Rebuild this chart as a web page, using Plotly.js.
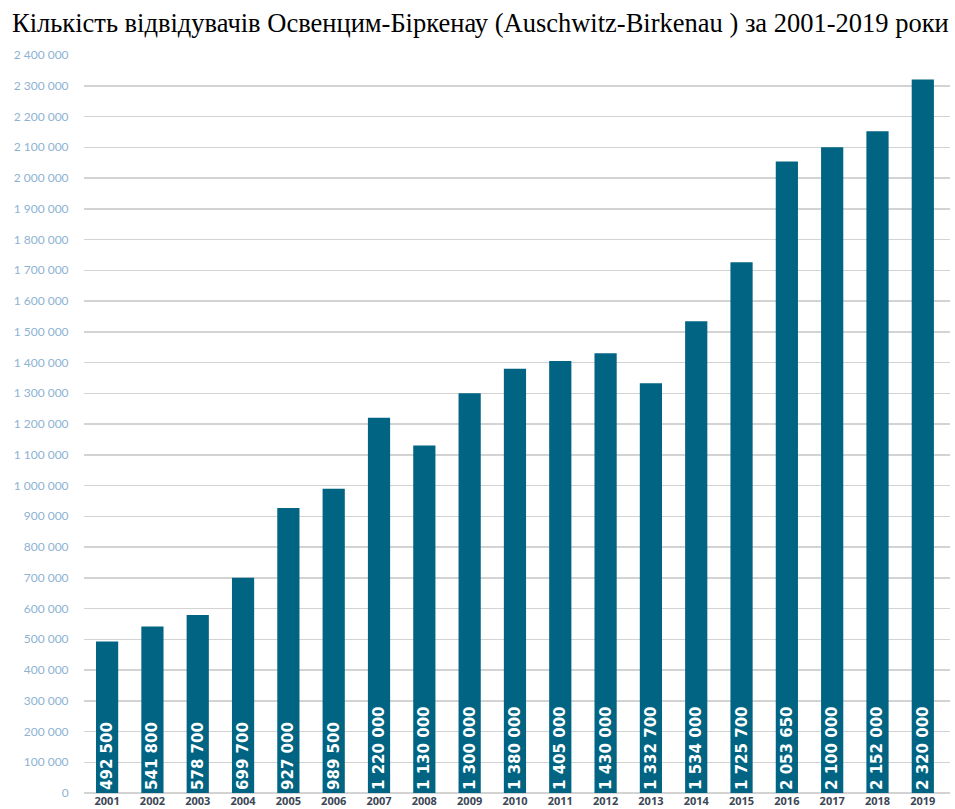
<!DOCTYPE html>
<html>
<head>
<meta charset="utf-8">
<script src="https://cdn.plot.ly/plotly-3.0.1.min.js"></script>
<style>html,body{margin:0;padding:0;background:#fff;}#chart{width:955px;height:809px;}</style>
</head>
<body>
<div id="chart"></div>
<script>
const years = ['2001','2002','2003','2004','2005','2006','2007','2008','2009','2010','2011','2012','2013','2014','2015','2016','2017','2018','2019'];
const visitors = [492500, 541800, 578700, 699700, 927000, 989500, 1220000, 1130000, 1300000, 1380000, 1405000, 1430000, 1332700, 1534000, 1725700, 2053650, 2100000, 2152000, 2320000];
const yTicks = [0,100000,200000,300000,400000,500000,600000,700000,800000,900000,1000000,1100000,1200000,1300000,1400000,1500000,1600000,1700000,1800000,1900000,2000000,2100000,2200000,2300000,2400000];
const titleText = 'Кількість відвідувачів Освенцим-Біркенау (Auschwitz-Birkenau ) за 2001-2019 роки';

const trace = {
  type: 'bar',
  x: years,
  y: visitors,
  marker: {color: '#006482', line: {width: 0}},
  width: 0.49,
  texttemplate: '%{y:,d}',
  textposition: 'inside',
  insidetextanchor: 'start',
  constraintext: 'none',
  textangle: -90,
  textfont: {family: 'DejaVu Sans', size: 15, color: '#ffffff', weight: 'bold', stretch: 'condensed'},
  cliponaxis: false,
  hoverinfo: 'x+y'
};

const layout = {
  width: 955, height: 809,
  margin: {l: 84, r: 5, t: 55, b: 16, pad: 0},
  separators: ', ',
  paper_bgcolor: '#ffffff', plot_bgcolor: '#ffffff',
  title: {text: titleText, font: {family: 'Liberation Serif', size: 26.5, color: '#000000'}, x: 0.503, xanchor: 'center', y: 0.972, yanchor: 'middle'},
  showlegend: false,
  bargap: 0.5,
  uniformtext: {mode: false},
  xaxis: {
    type: 'category',
    range: [-0.51, 18.6],
    showgrid: false, zeroline: false, showline: false,
    ticks: '', ticklen: 0,
    tickfont: {family: 'Open Sans', size: 11, color: '#3b4656', weight: 'bold'},
    fixedrange: true
  },
  yaxis: {
    range: [0, 2400000],
    tickvals: yTicks,
    tickformat: ',d',
    showgrid: true, gridcolor: '#d3d3d3', gridwidth: 1.5,
    zeroline: true, zerolinecolor: '#d3d3d3', zerolinewidth: 1.5,
    showline: false,
    ticks: 'outside', ticklen: 12, tickcolor: '#ffffff', tickwidth: 0,
    tickfont: {family: 'Lato', size: 12, color: '#8db3d3'},
    fixedrange: true
  }
};

Plotly.newPlot('chart', [trace], layout, {displayModeBar: false, staticPlot: true});
</script>
</body>
</html>
